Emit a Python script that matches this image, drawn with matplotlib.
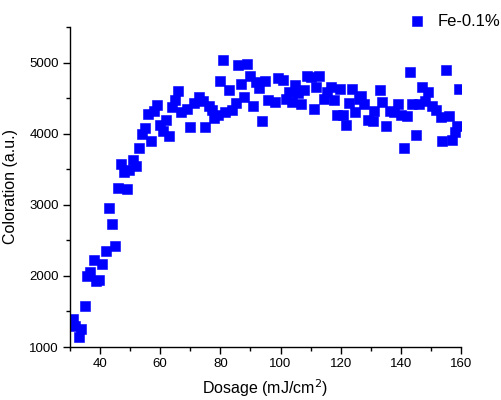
import matplotlib
matplotlib.use("Agg")
import matplotlib.pyplot as plt
from matplotlib.ticker import MultipleLocator

plt.rcParams['font.family'] = ['Liberation Sans', 'DejaVu Sans']

dosage = [30.9, 31.6, 32.9, 33.75, 34.9, 35.75, 36.7, 37.9, 38.6, 39.5,
          40.7, 41.9, 42.9, 43.85, 44.85, 45.9, 46.85, 47.85, 48.8, 49.7,
          50.8, 51.8, 52.9, 53.8, 54.8, 55.8, 56.9, 57.8, 58.8, 60.0,
          60.9, 61.8, 62.8, 63.8, 64.8, 65.8, 66.9, 68.8, 69.9, 71.2,
          72.9, 74.3, 74.85, 76.3, 77.1, 77.9, 79.2, 79.9, 80.9, 81.7,
          82.8, 83.9, 85.05, 85.9, 86.9, 87.9, 88.9, 89.9, 90.9, 92.0,
          92.9, 94.0, 94.9, 95.9, 98.3, 99.2, 100.9, 101.8, 102.8, 103.7,
          104.75, 105.85, 106.7, 107.8, 108.8, 110.1, 111.0, 111.8, 112.8, 114.3,
          115.5, 116.7, 117.8, 118.7, 119.9, 120.9, 121.9, 122.9, 123.9, 124.7,
          126.0, 126.7, 127.8, 129.1, 130.6, 131.1, 133.0, 133.9, 134.9, 136.3,
          137.6, 139.0, 140.2, 141.0, 142.1, 143.0, 143.85, 144.95, 146.0, 146.9,
          147.9, 149.0, 150.3, 151.8, 153.2, 153.8, 154.9, 155.9, 157.1, 157.9,
          158.7, 159.3]
coloration = [1390, 1300, 1137, 1249, 1581, 2004, 2060, 2229, 1934, 1943,
              2164, 2347, 2961, 2736, 2426, 3239, 3577, 3454, 3220, 3492,
              3633, 3539, 3792, 3995, 4079, 4277, 3896, 4323, 4407, 4122,
              4031, 4192, 3961, 4369, 4468, 4600, 4299, 4347, 4093, 4431,
              4510, 4464, 4093, 4383, 4337, 4214, 4267, 4741, 5031, 4299,
              4614, 4337, 4431, 4966, 4699, 4510, 4985, 4816, 4393, 4731,
              4637, 4172, 4741, 4468, 4440, 4778, 4750, 4488, 4586, 4440,
              4679, 4572, 4421, 4609, 4816, 4797, 4351, 4657, 4816, 4488,
              4586, 4651, 4468, 4267, 4628, 4267, 4116, 4431, 4628, 4299,
              4488, 4524, 4421, 4196, 4172, 4313, 4609, 4440, 4112, 4313,
              4299, 4417, 4267, 3792, 4252, 4868, 4417, 3975, 4417, 4661,
              4464, 4586, 4393, 4327, 4234, 3891, 4900, 4243, 3915, 4017,
              4112, 4633]
series_label = "Fe-0.1%"

fig = plt.figure(figsize=(5.01, 4.0), dpi=100)
ax = fig.add_axes([70 / 501, 53 / 400, 391 / 501, 320 / 400])

ax.plot(dosage, coloration, linestyle='none', marker='s', markersize=6.8,
        color='#0000ff', markeredgecolor='#0000ff', markeredgewidth=0.4,
        label=series_label)

ax.set_xlim(30, 160)
ax.set_ylim(1000, 5500)
ax.xaxis.set_major_locator(MultipleLocator(20))
ax.xaxis.set_minor_locator(MultipleLocator(10))
ax.yaxis.set_major_locator(MultipleLocator(1000))
ax.yaxis.set_minor_locator(MultipleLocator(500))

for s in ['top', 'right']:
    ax.spines[s].set_visible(False)
for s in ['left', 'bottom']:
    ax.spines[s].set_linewidth(1.0)

ax.tick_params(which='major', direction='out', length=5, width=1, labelsize=9.5, pad=3)
ax.tick_params(which='minor', direction='out', length=3, width=1)

ax.set_xlabel("Dosage (mJ/cm$^2$)", fontsize=11.5, labelpad=5)
ax.set_ylabel("Coloration (a.u.)", fontsize=11.5, labelpad=8)

fig.legend(loc='center right', bbox_to_anchor=(500 / 501, 1 - 22 / 400),
           frameon=False, fontsize=12, handlelength=0.8, handletextpad=0.8,
           borderpad=0.0, borderaxespad=0.0)

fig.savefig("out.png", dpi=100)
